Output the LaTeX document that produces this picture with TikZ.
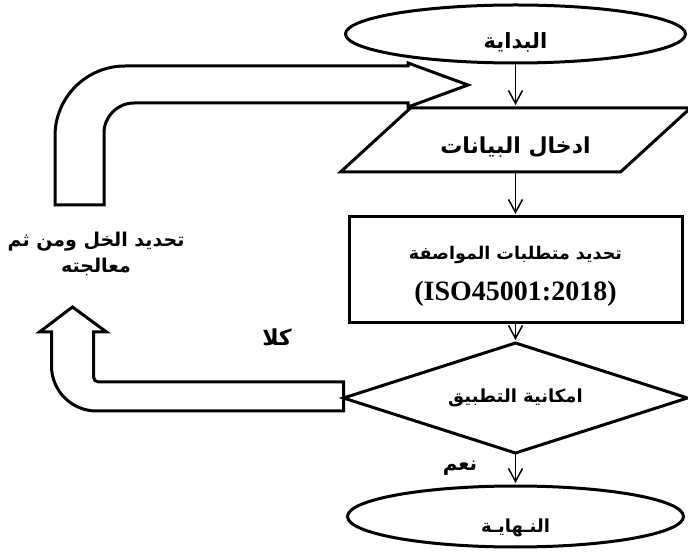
\documentclass[tikz,border=0pt]{standalone}
\usepackage{fontspec}
\setmainfont{Liberation Serif}
\newfontfamily\arabicfont[Script=Arabic]{DejaVu Sans}
\TeXXeTstate=1
\usetikzlibrary{positioning}
\usetikzlibrary{shapes.geometric, arrows.meta}
\newcommand{\artext}[2][20]{{\arabicfont\bfseries\fontsize{#1}{#1}\selectfont\beginR #2\endR}}
\tikzset{
  terminal/.style={draw, ellipse, line width=3pt, inner sep=0pt, outer sep=0pt, minimum width=340pt, minimum height=58pt},
  inout/.style={rectangle, inner sep=0pt, outer sep=0pt, text height=46pt, text depth=18pt, minimum width=280pt},
  process/.style={draw, rectangle, line width=3pt, inner sep=0pt, outer sep=0pt, minimum width=333pt, minimum height=106pt},
  decision/.style={draw, diamond, aspect=3.1, line width=3pt, inner sep=0pt, outer sep=0pt, minimum width=344pt, minimum height=110pt},
  flow/.style={line width=1.5pt, shorten >=3pt, -{Straight Barb[length=13pt,width=14pt]}},
  blockarrow/.style={line width=3pt, line join=miter}
}

\begin{document}
\begin{tikzpicture}[x=1pt, y=1pt]
  \useasboundingbox (0,0) rectangle (688,557);

  \node [terminal, label={[yshift=-8pt]center:\artext[21]{البداية}}] (start) at (515.5,523) {};
  \node [inout, below=45pt of start] (input) {\artext[22]{ادخال البيانات}};
  \draw [line width=3pt] ([xshift=35pt]input.north west) -- ([xshift=35pt]input.north east)
    -- ([xshift=-35pt]input.south east) -- ([xshift=-35pt]input.south west) -- cycle;
  \node [process, below=45pt of input, label={[yshift=-6pt, align=center]center:\artext[17.5]{تحديد متطلبات المواصفة}\\[16pt]{\bfseries\fontsize{28}{28}\selectfont (ISO45001:2018)}}] (proc) {};
  \node [decision, below=20pt of proc] (dia) {\artext[18]{امكانية التطبيق}};
  \node [terminal, below=33pt of dia, minimum width=336pt, minimum height=61pt, label={[yshift=-11pt]center:\artext[18]{النـهايـة}}] (end) {};

  \node (fixlbl) at (96,303) [align=center] {\artext[19]{تحديد الخل ومن ثم}\\[6pt]\artext[19]{معالجته}};
  \node (nolbl) at (277,220) {\artext[22]{كلا}};
  \node (yeslbl) at (460,89) {\artext[20]{نعم}};

  \draw [flow] (start) -- (input);
  \draw [flow] (input) -- (proc);
  \draw [flow] (proc) -- (dia);
  \draw [flow] (dia) -- (end);

  \draw [blockarrow] (55,352) -- (55,421) arc[start angle=180, end angle=90, radius=70]
    -- (408,491) -- (408,494) -- (468,472) -- (408,450) -- (408,454)
    -- (134,454) arc[start angle=90, end angle=180, radius=30] -- (104,352) -- cycle;

  \draw [blockarrow] (dia.west) ++(0,-13) -- ++(-247,0) arc[start angle=270, end angle=180, radius=45]
    -- ++(0,34) -- ++(-12,0) -- ++(33,25) -- ++(34,-25) -- ++(-13,0) -- ++(0,-45)
    arc[start angle=180, end angle=270, radius=5] -- ++(245,0) -- cycle;
\end{tikzpicture}
\end{document}
